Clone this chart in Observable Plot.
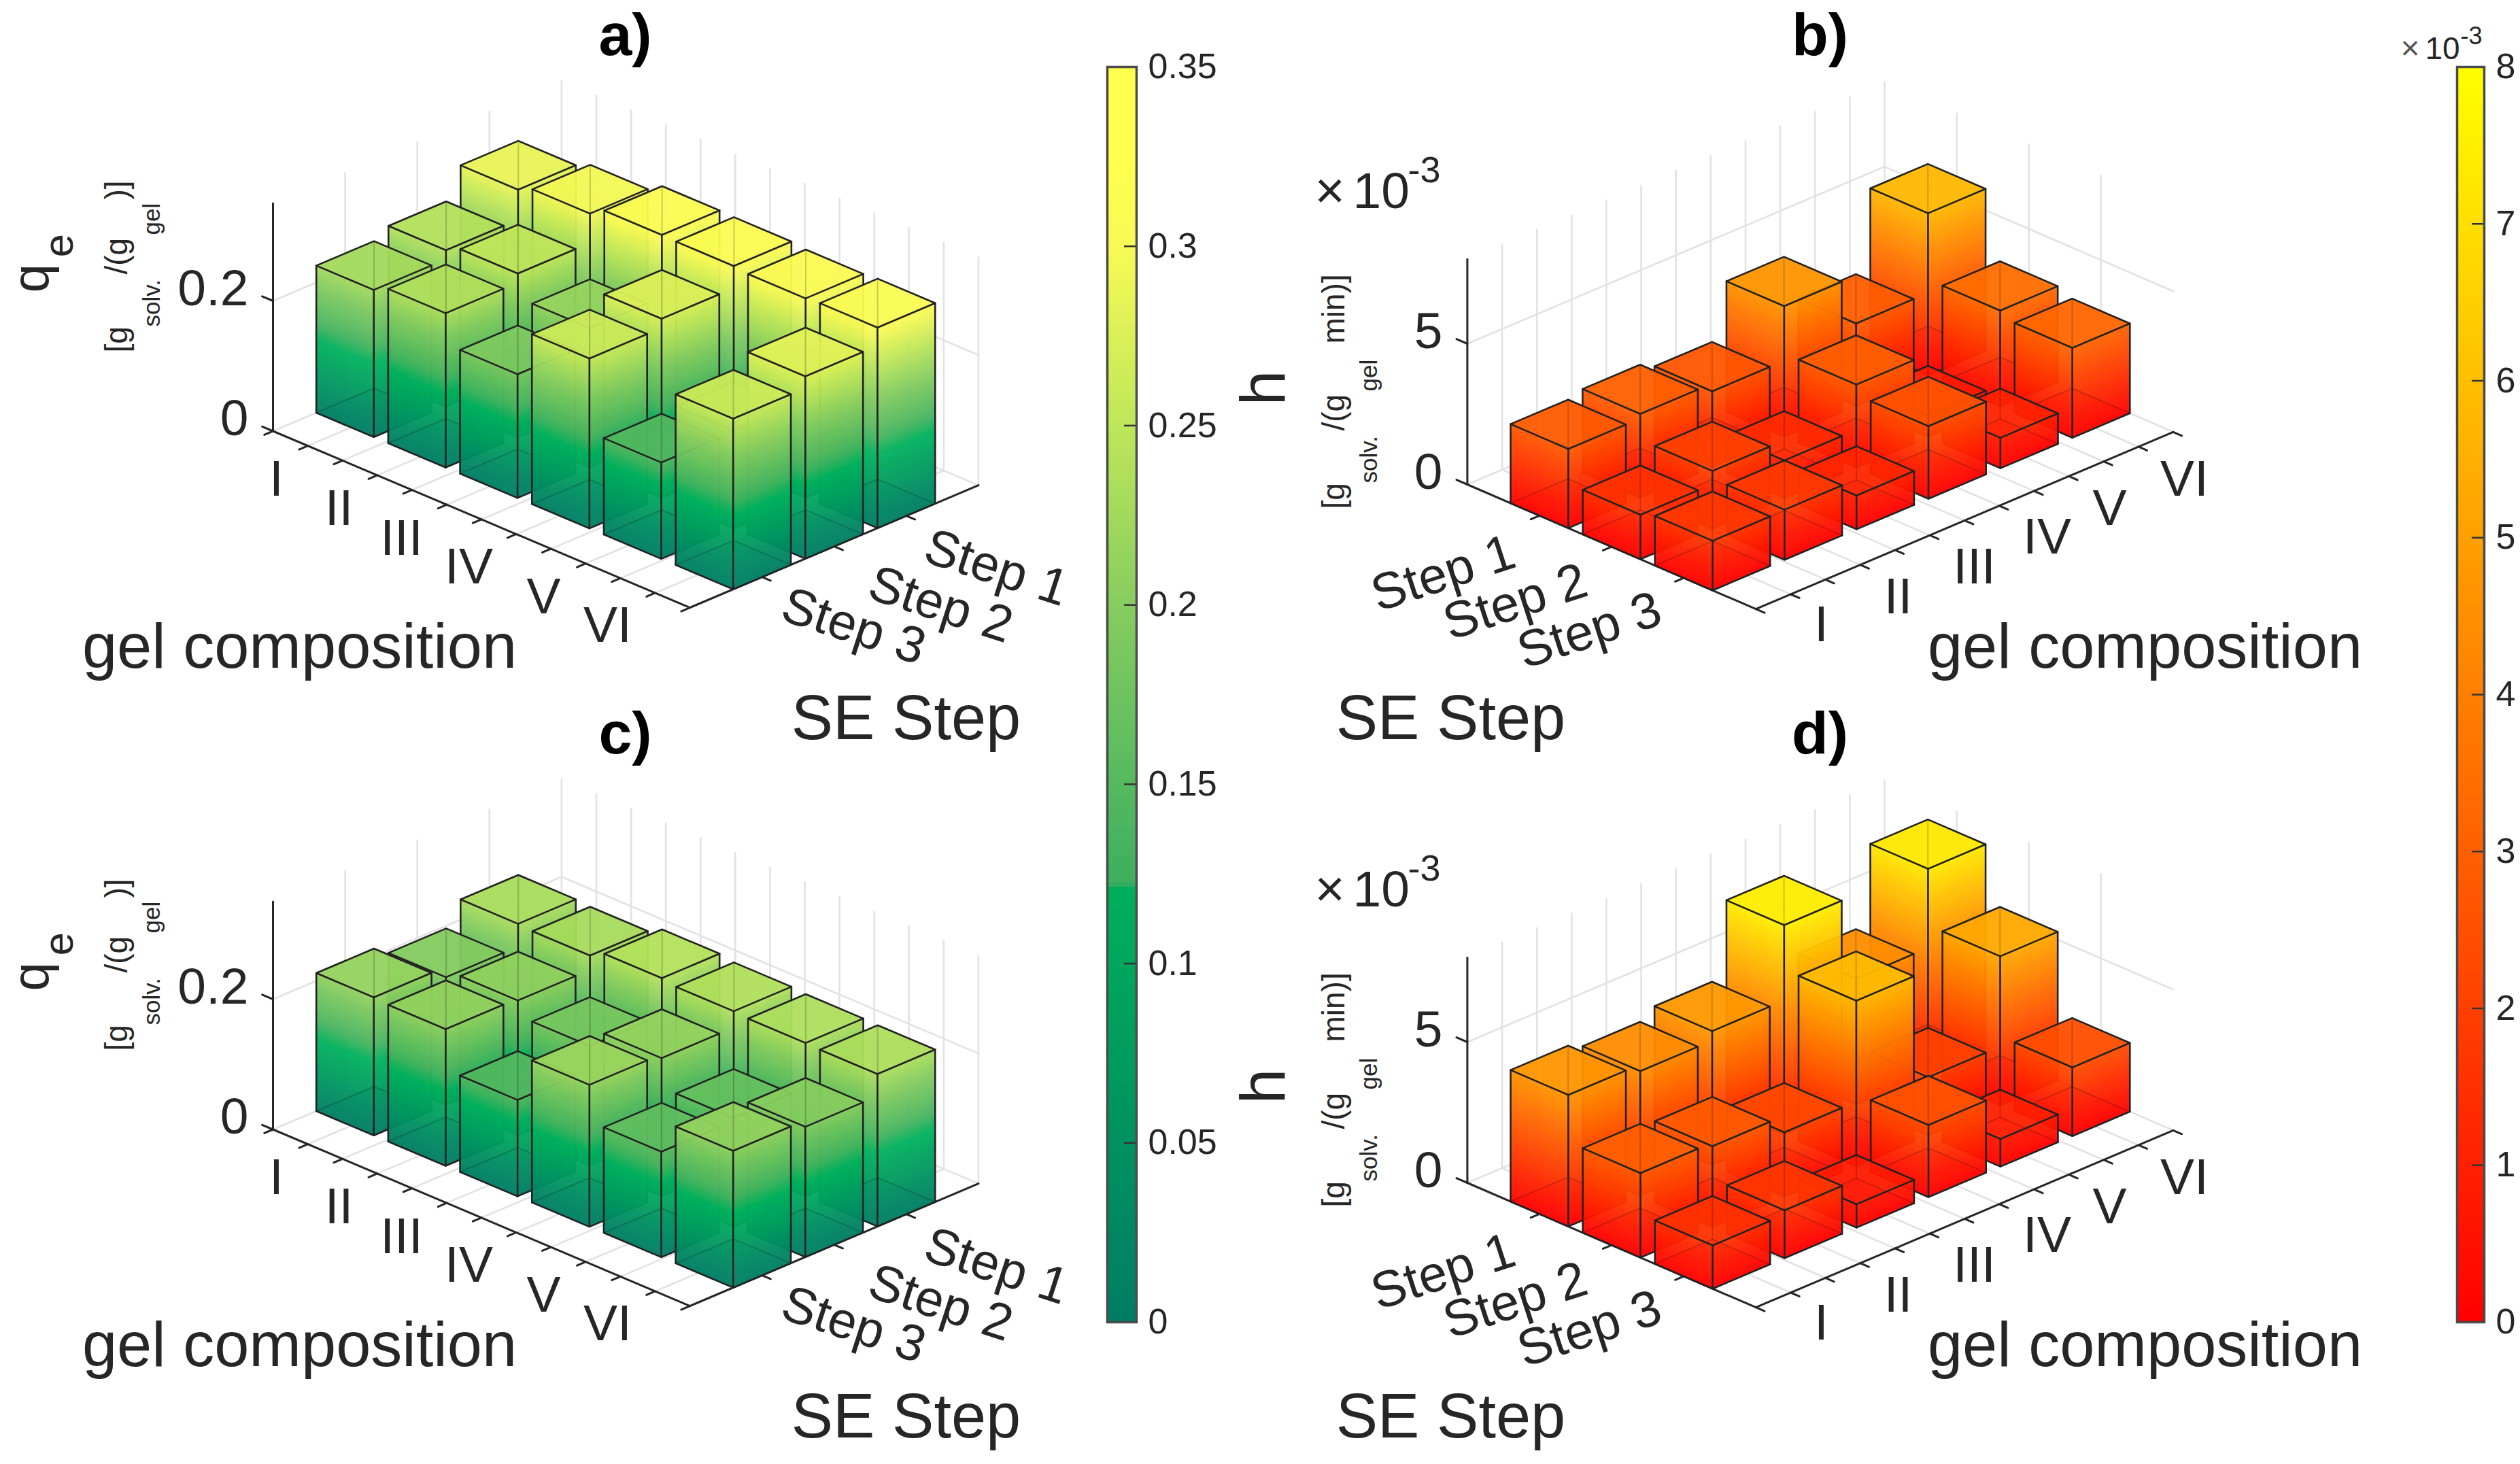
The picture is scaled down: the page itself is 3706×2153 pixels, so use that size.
<!DOCTYPE html>
<html><head><meta charset="utf-8">
<script src="https://cdn.jsdelivr.net/npm/d3@7"></script>
<script src="https://cdn.jsdelivr.net/npm/@observablehq/plot@0.6"></script>
<style>html,body{margin:0;background:#fff}#fig{position:relative;width:3706px;height:2153px;overflow:hidden}#fig svg{position:absolute;background:transparent;max-width:none}</style>
</head><body><div id="fig"></div>
<script>
// ---------- data ----------
const compositions = ["I","II","III","IV","V","VI"];
const steps = ["Step 1","Step 2","Step 3"];
const qeA1 = [0.286,0.296,0.310,0.309,0.306,0.308];
const qeA2 = [0.240,0.251,0.214,0.275,0.150,0.280];
const qeA3 = [0.226,0.237,0.190,0.261,0.148,0.262];
const qeC1 = [0.231,0.229,0.241,0.237,0.235,0.234];
const qeC2 = [0.196,0.207,0.184,0.212,0.167,0.200];
const qeC3 = [0.212,0.210,0.148,0.218,0.162,0.210];
// h, in units of 10^-3
const hB1 = [2.81,2.97,2.69,4.63,2.93,5.76];
const hB2 = [1.58,2.05,1.34,2.95,0.78,3.41];
const hB3 = [1.76,1.78,1.20,2.58,1.08,3.19];
const hD1 = [4.67,4.43,4.77,7.45,4.47,7.28];
const hD2 = [3.00,2.87,2.28,5.87,2.07,5.28];
const hD3 = [1.54,1.70,0.83,2.56,0.98,2.44];
const qeTicks = [0,0.05,0.1,0.15,0.2,0.25,0.3,0.35];
const hTicks = [0,1,2,3,4,5,6,7,8];

// ---------- colour scales ----------
const greenBar = {type:"linear", interpolate:"rgb",
  domain:[0,0.1215,0.122,0.15,0.2,0.25,0.3,0.325,0.35],
  range:["rgb(0,125,100)","rgb(0,175,90)","rgb(60,175,95)","rgb(85,185,95)","rgb(135,205,95)","rgb(190,230,90)","rgb(248,250,85)","rgb(255,255,78)","rgb(255,255,78)"]};
const greenFace = {type:"linear", interpolate:"rgb",
  domain:[0,0.112,0.135,0.15,0.2,0.25,0.3,0.325,0.35],
  range:["rgb(0,125,100)","rgb(0,178,92)","rgb(66,180,95)","rgb(85,185,95)","rgb(135,205,95)","rgb(190,230,90)","rgb(248,250,85)","rgb(255,255,78)","rgb(255,255,78)"]};
const redScale = {type:"linear", interpolate:"rgb", domain:[0,8], range:["rgb(255,0,0)","rgb(255,255,0)"]};

// ---------- layout ----------
const INK = "#262626", FONT = "Liberation Sans, Arial, sans-serif";
const cTicks = d3.range(0,13).map(k => 0.6 + k*5.8/12);
const views = {
  left:{O:[401,633.5],U:[105.7,44.76],S:[-106.1,45],s0:4,sep:k=>k.c+k.s,left:0,width:1620,
    compPos:[[406,704],[498,747],[590,791],[689,833],[799,877],[893,919]],
    stepPos:[[1465,835],[1383,889],[1255,921]],stepRot:18,
    compTitleX:440,stepTitleX:1332,letterX:919,zLabelX:365},
  right:{O:[2157.4,712],U:[105.8,-44.9],S:[106.1,45.8],s0:0,sep:k=>k.s-k.c,left:1750,width:1760,
    compPos:[[2678,918],[2791,877],[2903,833],[3010,789],[3102,747],[3212,704]],
    stepPos:[[2122,843],[2228,885],[2337,927]],stepRot:-18,
    compTitleX:3154,stepTitleX:2133,letterX:2676,zLabelX:2121}
};

function panel({view, letter, series, scale, Z, zMax, zTicks, zTickLabels, topOffset, unit}) {
  const V = views[view];
  const P = (c,s,z=0) => [V.O[0]+(c-0.6)*V.U[0]+(s-V.s0)*V.S[0], V.O[1]+(c-0.6)*V.U[1]+(s-V.s0)*V.S[1]-z*Z];
  const seg = (id,pts) => pts.map(p => ({id,x:p[0],y:p[1]}));
  const isL = view==="left";
  // grid
  let g = [];
  const vert = (c,s) => seg(`v${c}-${s}`,[P(c,s,0),P(c,s,zMax)]);
  if (isL) { [3,2,1,0].forEach(s=>g.push(...vert(0.6,s))); cTicks.slice(1).forEach(c=>g.push(...vert(c,0))); }
  else { cTicks.slice(1).forEach(c=>g.push(...vert(c,0))); [1,2,3].forEach(s=>g.push(...vert(6.4,s))); }
  cTicks.slice(1,12).forEach(c=>g.push(...seg(`fc${c}`,[P(c,0),P(c,4)])));
  [1,2,3].forEach(s=>g.push(...seg(`fs${s}`,[P(0.6,s),P(6.4,s)])));
  zTicks.forEach(z=>g.push(...seg(`z${z}`, isL ? [P(0.6,4,z),P(0.6,0,z),P(6.4,0,z)] : [P(0.6,0,z),P(6.4,0,z),P(6.4,4,z)])));
  // axes
  const corner = isL ? [0.6,4] : [0.6,0];
  let a = [];
  a.push(...seg("zaxis",[P(...corner,0),P(...corner,zMax)]));
  a.push(...seg("caxis",[P(0.6,4),P(6.4,4)]));
  a.push(...seg("saxis", isL ? [P(6.4,0),P(6.4,4)] : [P(0.6,0),P(0.6,4)]));
  cTicks.forEach(c=>a.push(...seg(`tc${c}`,[P(c,4),P(c,4.12)])));
  [1,2,3].forEach(s=>a.push(...seg(`ts${s}`, isL ? [P(6.4,s),P(6.52,s)] : [P(0.6,s),P(0.48,s)])));
  zTicks.forEach(z=>a.push(...seg(`tz${z}`, isL ? [P(0.6,4,z),P(0.45,4,z)] : [P(0.6,0,z),P(0.6,-0.15,z)])));

  const marks = [
    Plot.line(g,{x:"x",y:"y",z:"id",stroke:"#e2e2e2",strokeWidth:2.6}),
    Plot.line(a,{x:"x",y:"y",z:"id",stroke:INK,strokeWidth:3})
  ];
  // bars, back to front
  const bars = [];
  series.forEach((row,si)=>row.forEach((h,ci)=>bars.push({c:ci+1,s:si+1,h})));
  bars.sort((p,q)=>V.sep(p)-V.sep(q));
  const dz = zMax/90, w = 0.4;
  const groupOpacity = (i,s,v,d,c,next)=>{const n=next(i,s,v,d,c); n.setAttribute("opacity","0.95"); return n;};
  for (const b of bars) {
    const pts = [[b.c-w,b.s-w],[b.c+w,b.s-w],[b.c+w,b.s+w],[b.c-w,b.s+w]].map(p=>P(p[0],p[1],0));
    const sx = pts.slice().sort((p,q)=>p[0]-q[0]);
    const L = sx[0], R = sx[3];
    const mid = [sx[1],sx[2]].sort((p,q)=>p[1]-q[1]);
    const B = mid[0], F = mid[1];
    const rows = [];
    const dh = b.h*Z;
    let k = 0;
    for (const [A,C] of [[L,F],[F,R]]) {
      for (let z=0; z<b.h; z+=dz) {
        const z1 = Math.min(z+dz*1.4,b.h), v = z+dz/2; k++;
        rows.push({k,x:A[0],y0:A[1]-z*Z,y1:A[1]-z1*Z,v},{k,x:C[0],y0:C[1]-z*Z,y1:C[1]-z1*Z,v});
      }
    }
    k++;
    rows.push({k,x:L[0],y0:L[1]-dh,y1:L[1]-dh,v:b.h},{k,x:F[0],y0:F[1]-dh,y1:B[1]-dh,v:b.h},{k,x:R[0],y0:R[1]-dh,y1:R[1]-dh,v:b.h});
    marks.push(Plot.area(rows,{x1:"x",x2:"x",y1:"y0",y2:"y1",z:"k",fill:"v",render:groupOpacity}));
    // floor of the bar seen through the translucent faces
    marks.push(Plot.area([{x:L[0],y0:L[1],y1:L[1],v:0},{x:F[0],y0:F[1],y1:B[1],v:0},{x:R[0],y0:R[1],y1:R[1],v:0}],
      {x1:"x",x2:"x",y1:"y0",y2:"y1",fill:"v",fillOpacity:0.14}));
    const hidden = [...seg("a",[L,B,R]),...seg("b",[B,[B[0],B[1]-dh]])];
    marks.push(Plot.line(hidden,{x:"x",y:"y",z:"id",stroke:"#111",strokeWidth:2,strokeOpacity:0.2}));
    const up = p=>[p[0],p[1]-dh];
    const edges = [...seg("t",[L,F,R].map(up).concat([up(B),up(L)])),...seg("l",[L,up(L)]),...seg("f",[F,up(F)]),...seg("r",[R,up(R)]),...seg("g",[L,F,R])];
    marks.push(Plot.line(edges,{x:"x",y:"y",z:"id",stroke:"#222",strokeWidth:2.6,strokeLinejoin:"round"}));
  }
  // text
  const T = (rows,o={}) => Plot.text(rows,{x:"x",y:"y",text:"t",fontSize:"size",rotate:"r",fill:INK,fontFamily:FONT,textAnchor:"middle",lineAnchor:"bottom",...o});
  marks.push(T([{t:letter,x:V.letterX,y:80,size:88,r:0}],{fontWeight:"bold",fill:"#000"}));
  marks.push(T(compositions.map((t,i)=>({t,x:V.compPos[i][0],y:V.compPos[i][1],size:75,r:0})),{lineAnchor:"middle"}));
  marks.push(T(steps.map((t,i)=>({t,x:V.stepPos[i][0],y:V.stepPos[i][1],size:75,r:V.stepRot})),{lineAnchor:"middle"}));
  marks.push(T(zTicks.map((z,i)=>({t:zTickLabels[i],x:V.zLabelX,y:P(...corner,z)[1]-18,size:75,r:0})),{textAnchor:"end",lineAnchor:"middle"}));
  marks.push(T([{t:"gel composition",x:V.compTitleX,y:981,size:92,r:0},{t:"SE Step",x:V.stepTitleX,y:1086,size:92,r:0}]));
  marks.push(T(unit,{textAnchor:"start"}));

  return {marks, V, topOffset, scale};
}

function mount(p){
  const H = 1126, W = p.V.width, x0 = p.V.left;
  const svg = Plot.plot({
    width:W, height:H, margin:0,
    x:{domain:[x0,x0+W],range:[0,W],axis:null},
    y:{domain:[0,H],range:[0,H],axis:null},
    color:p.scale, marks:p.marks, style:{background:"transparent",maxWidth:"none"}
  });
  svg.style.left = x0+"px"; svg.style.top = p.topOffset+"px";
  document.getElementById("fig").append(svg);
}

const r = (t,x,y,size)=>({t,x,y,size,r:-90});
const unitQe = [ r("q",70,430,76), r("e",106,378,62), r("[g",186,518,46), r("solv.",234,480,35), r("/(g",186,403,46), r("gel",234,345,35), r(")]",186,293,46) ];
const DX = 1790, DY = 230;
const unitH = [ r("h",1888,596,93), r("[g",186+DX,518+DY,46), r("solv.",234+DX,480+DY,35), r("/(g",186+DX,403+DY,46), r("gel",234+DX,345+DY,35), r("min)]",186+DX,275+DY,46),
  {t:"×",x:1933,y:305,size:76,r:0}, {t:"10",x:1989,y:305,size:75,r:0}, {t:"-3",x:2070,y:267,size:54,r:0} ];

mount(panel({view:"left",letter:"a)",series:[qeA1,qeA2,qeA3],scale:greenFace,Z:957.5,zMax:0.35,zTicks:[0,0.2],zTickLabels:["0","0.2"],topOffset:0,unit:unitQe}));
mount(panel({view:"left",letter:"c)",series:[qeC1,qeC2,qeC3],scale:greenFace,Z:957.5,zMax:0.35,zTicks:[0,0.2],zTickLabels:["0","0.2"],topOffset:1027,unit:unitQe}));
mount(panel({view:"right",letter:"b)",series:[hB1,hB2,hB3],scale:redScale,Z:41.4,zMax:8,zTicks:[0,5],zTickLabels:["0","5"],topOffset:0,unit:unitH}));
mount(panel({view:"right",letter:"d)",series:[hD1,hD2,hD3],scale:redScale,Z:41.4,zMax:8,zTicks:[0,5],zTickLabels:["0","5"],topOffset:1027,unit:unitH}));

function colorbar({left,width,x1,x2,domain,ticks,scale,extra=[]}){
  const n = 300, d = (domain[1]-domain[0])/n;
  const slices = d3.range(n).map(i=>({a:domain[0]+i*d,b:Math.min(domain[1],domain[0]+(i+1.5)*d),v:domain[0]+(i+.5)*d}));
  const unitPerPx = (domain[1]-domain[0])/(1944-98);
  const svg = Plot.plot({
    width, height:2153, marginLeft:x1-left, marginRight:left+width-x2, marginTop:98, marginBottom:209,
    x:{domain:[x1,x2],axis:null}, y:{domain,axis:null},
    color:scale,
    marks:[
      Plot.rect(slices,{x1:()=>x1,x2:()=>x2,y1:"a",y2:"b",fill:"v"}),
      Plot.ruleY(ticks.slice(1,-1),{x1:x2-18,x2:x2,stroke:"#333",strokeWidth:2.5}),
      Plot.frame({stroke:"#4a4a4a",strokeWidth:3.5}),
      Plot.axisY(ticks,{anchor:"right",tickSize:0,tickPadding:17,label:null,tickFormat:d=>String(d),fontSize:52,fontFamily:FONT,color:INK}),
      ...extra.map(e=>Plot.text([e],{x:"x",y:q=>domain[1]+(98-q.py)*unitPerPx,text:"t",fontSize:"size",fill:e.c||INK,fontFamily:FONT,textAnchor:"start",lineAnchor:"bottom"}))
    ],
    style:{background:"transparent",maxWidth:"none"}
  });
  svg.style.left=left+"px"; svg.style.top="0px";
  document.getElementById("fig").append(svg);
}
colorbar({left:1610,width:200,x1:1628,x2:1671,domain:[0,0.35],ticks:qeTicks,scale:greenBar});
colorbar({left:3500,width:206,x1:3613,x2:3653,domain:[0,8],ticks:hTicks,scale:redScale,
  extra:[{t:"×",x:3530,py:86,size:48,c:"#555"},{t:"10",x:3566,py:86,size:46},{t:"-3",x:3618,py:64,size:36}]});
</script></body></html>
